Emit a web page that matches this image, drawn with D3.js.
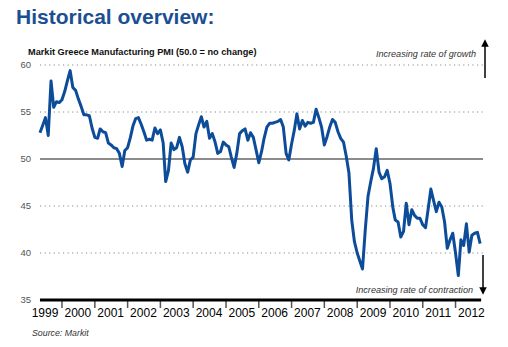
<!DOCTYPE html>
<html>
<head>
<meta charset="utf-8">
<script src="https://cdn.jsdelivr.net/npm/d3@7"></script>
<style>
	body { margin: 0; background: #fff; }
	svg { display: block; font-family: "Liberation Sans", Arial, sans-serif; }
</style>
</head>
<body>
<svg width="508" height="347"></svg>
<script>
// first month of the series (May 1999) and monthly PMI readings through Oct 2012
var startYear = 1999;
var startMonth = 4;
var pmi = [
	52.8, 53.6, 54.4, 52.5, 58.3, 55.5, 56.1, 56.0,                                   // 1999
	56.3, 57.2, 58.3, 59.4, 57.6, 57.3, 56.4, 55.6, 54.7, 54.7, 54.6, 53.3,           // 2000
	52.3, 52.2, 53.2, 52.9, 52.8, 51.7, 51.5, 51.2, 51.1, 50.6, 49.2, 50.9,           // 2001
	51.2, 52.3, 53.5, 54.3, 54.4, 53.7, 52.9, 52.0, 52.1, 52.0, 53.3, 52.7,           // 2002
	53.1, 51.7, 47.6, 48.8, 51.7, 51.0, 51.2, 52.3, 51.3, 49.5, 48.6, 49.9,           // 2003
	50.2, 52.7, 53.6, 54.5, 53.4, 54.0, 52.2, 52.7, 51.8, 50.6, 50.8, 51.8,           // 2004
	51.5, 51.3, 50.2, 49.1, 50.6, 52.7, 53.0, 53.2, 52.0, 52.8, 52.3, 51.0,           // 2005
	49.6, 50.8, 52.2, 53.4, 53.8, 53.8, 53.9, 54.0, 54.2, 53.4, 50.6, 49.9,           // 2006
	51.6, 53.1, 54.8, 53.2, 54.1, 53.5, 53.9, 53.8, 53.9, 55.3, 54.4, 53.4,           // 2007
	51.5, 52.4, 53.4, 54.2, 53.9, 52.9, 52.2, 51.8, 50.3, 48.5, 43.5, 41.2,           // 2008
	40.0, 39.1, 38.3, 42.5, 46.0, 47.6, 49.0, 51.1, 48.6, 47.9, 48.1, 48.8,           // 2009
	47.4, 44.9, 43.5, 43.3, 41.7, 42.3, 45.3, 43.0, 44.6, 44.0, 43.7, 43.7,           // 2010
	43.0, 42.7, 44.6, 46.8, 45.6, 44.4, 45.4, 44.9, 43.3, 40.5, 41.4, 42.1,           // 2011
	40.0, 37.6, 41.4, 40.8, 43.1, 40.1, 41.9, 42.1, 42.2, 41.0                        // 2012
];
var years = d3.range(1999, 2013);
var yTicks = [35, 40, 45, 50, 55, 60];

var titleText = "Historical overview:";
var subtitleText = "Markit Greece Manufacturing PMI (50.0 = no change)";
var growthText = "Increasing rate of growth";
var contractionText = "Increasing rate of contraction";
var sourceText = "Source: Markit";

var svg = d3.select("svg");

// build the dated series
var data = pmi.map(function(v, i) {
	return { date: new Date(startYear, startMonth + i, 1), value: v };
});

var x = d3.scaleTime()
	.domain([new Date(1999, 0, 1), new Date(2013, 0, 1)])
	.range([29.2, 488.4]);

var y = d3.scaleLinear()
	.domain([35, 60])
	.range([300, 65]);

var firstX = x(data[0].date);
var lastX = x(data[data.length - 1].date);

// title and subtitle
svg.append("text")
	.attr("x", 16)
	.attr("y", 24)
	.attr("font-size", 21)
	.attr("font-weight", "bold")
	.attr("fill", "#1b4f92")
	.text(titleText);

svg.append("text")
	.attr("x", 28)
	.attr("y", 55)
	.attr("font-size", 9.2)
	.attr("font-weight", "bold")
	.attr("fill", "#111")
	.text(subtitleText);

// horizontal grid lines
svg.append("g")
	.selectAll("line")
	.data(yTicks.filter(function(d) { return d != 35; }))
	.enter().append("line")
	.attr("x1", firstX)
	.attr("x2", 483)
	.attr("y1", function(d) { return y(d); })
	.attr("y2", function(d) { return y(d); })
	.attr("stroke", function(d) { return d == 50 ? "#666" : "#8a8a8a"; })
	.attr("stroke-width", function(d) { return d == 50 ? 1.4 : 1.2; })
	.attr("stroke-dasharray", function(d) { return d == 50 ? null : "1.2,3.4"; });

// y labels
svg.append("g")
	.selectAll("text")
	.data(yTicks)
	.enter().append("text")
	.attr("x", 31)
	.attr("y", function(d) { return y(d); })
	.attr("dy", "0.35em")
	.attr("text-anchor", "end")
	.attr("font-size", 9.5)
	.attr("fill", "#555")
	.text(function(d) { return d; });

// the PMI line
var line = d3.line()
	.x(function(d) { return x(d.date); })
	.y(function(d) { return y(d.value); });

svg.append("path")
	.datum(data)
	.attr("d", line)
	.attr("fill", "none")
	.attr("stroke", "#0d4c99")
	.attr("stroke-width", 3)
	.attr("stroke-linejoin", "round");

// x axis: ticks at year starts, labels to the right of each tick
var yearDates = years.map(function(yr) { return new Date(yr, 0, 1); });

svg.append("g")
	.selectAll("line")
	.data(yearDates.slice(1))
	.enter().append("line")
	.attr("x1", function(d) { return x(d); })
	.attr("x2", function(d) { return x(d); })
	.attr("y1", y(35))
	.attr("y2", y(35) + 8)
	.attr("stroke", "#555")
	.attr("stroke-width", 1.5);

svg.append("line")
	.attr("x1", firstX)
	.attr("x2", lastX + 1)
	.attr("y1", y(35))
	.attr("y2", y(35))
	.attr("stroke", "#000")
	.attr("stroke-width", 3);

svg.append("g")
	.selectAll("text")
	.data(yearDates)
	.enter().append("text")
	.attr("x", function(d) { return x(d) + 2.5; })
	.attr("y", 317)
	.attr("font-size", 12)
	.attr("fill", "#000")
	.text(function(d) { return d.getFullYear(); });

// direction notes and arrows
svg.append("defs").append("marker")
	.attr("id", "head")
	.attr("viewBox", "0 0 10 10")
	.attr("refX", 5)
	.attr("refY", 5)
	.attr("markerWidth", 5)
	.attr("markerHeight", 5)
	.attr("orient", "auto")
	.append("path")
	.attr("d", "M0,0 L10,5 L0,10 z")
	.attr("fill", "#000");

svg.append("line")
	.attr("x1", 485).attr("x2", 485)
	.attr("y1", 78).attr("y2", 43)
	.attr("stroke", "#000")
	.attr("stroke-width", 1.5)
	.attr("marker-end", "url(#head)");

svg.append("line")
	.attr("x1", 483).attr("x2", 483)
	.attr("y1", 255).attr("y2", 291)
	.attr("stroke", "#000")
	.attr("stroke-width", 1.5)
	.attr("marker-end", "url(#head)");

svg.append("text")
	.attr("x", 476)
	.attr("y", 57)
	.attr("text-anchor", "end")
	.attr("font-size", 9.1)
	.attr("font-style", "italic")
	.attr("fill", "#333")
	.text(growthText);

svg.append("text")
	.attr("x", 473)
	.attr("y", 293)
	.attr("text-anchor", "end")
	.attr("font-size", 9.1)
	.attr("font-style", "italic")
	.attr("fill", "#333")
	.text(contractionText);

svg.append("text")
	.attr("x", 32)
	.attr("y", 336)
	.attr("font-size", 8.8)
	.attr("font-style", "italic")
	.attr("fill", "#333")
	.text(sourceText);
</script>
</body>
</html>
